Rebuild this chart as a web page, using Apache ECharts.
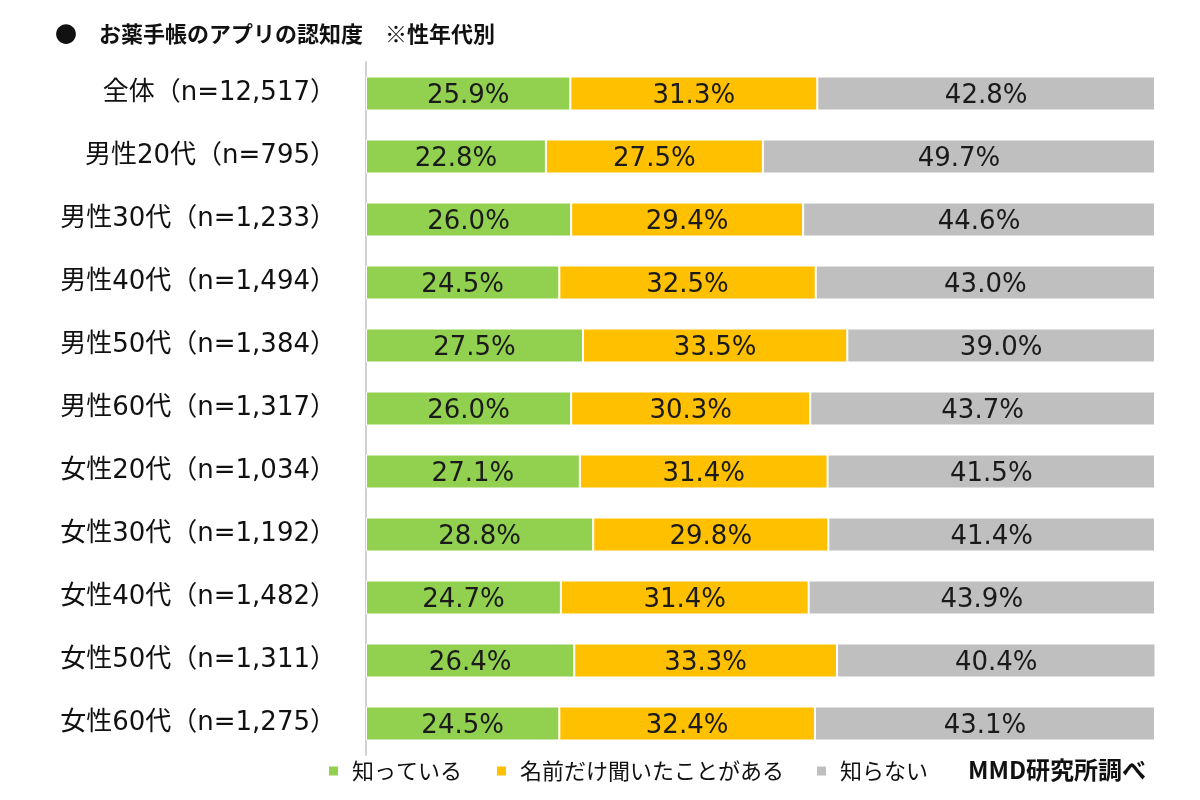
<!DOCTYPE html>
<html><head><meta charset="utf-8">
<script src="https://cdn.jsdelivr.net/npm/echarts@6/dist/echarts.min.js"></script>
<style>html,body{margin:0;padding:0;background:#fff}#c{width:1200px;height:800px}</style>
</head><body><div id="c"></div>
<script>
const categories = ['全体（n=12,517）','男性20代（n=795）','男性30代（n=1,233）','男性40代（n=1,494）','男性50代（n=1,384）','男性60代（n=1,317）','女性20代（n=1,034）','女性30代（n=1,192）','女性40代（n=1,482）','女性50代（n=1,311）','女性60代（n=1,275）'];
const known = [25.9,22.8,26.0,24.5,27.5,26.0,27.1,28.8,24.7,26.4,24.5];
const nameOnly = [31.3,27.5,29.4,32.5,33.5,30.3,31.4,29.8,31.4,33.3,32.4];
const unknown = [42.8,49.7,44.6,43.0,39.0,43.7,41.5,41.4,43.9,40.4,43.1];
const seriesNames = ['知っている','名前だけ聞いたことがある','知らない'];
const colors = ['#92D050','#FFC000','#BFBFBF'];
const FONT = '"DejaVu Sans", "Noto Sans CJK JP", sans-serif';
const JP = '"Noto Sans CJK JP", sans-serif';
const chart = echarts.init(document.getElementById('c'));
const mk = (name, data, i) => ({
  name, type: 'bar', stack: 'all', data, barWidth: 34,
  itemStyle: {color: colors[i], borderColor: '#fff', borderWidth: 1},
  label: {show: true, position: 'inside', offset: [0, 3], formatter: p => p.value.toFixed(1) + '%',
    color: '#1a1a1a', fontSize: 26, fontFamily: FONT},
  emphasis: {disabled: true}
});
const legendLefts = [327, 495, 815];
chart.setOption({
  animation: false,
  title: {text: '●　お薬手帳のアプリの認知度　※性年代別', left: 50, top: 18,
    textStyle: {fontSize: 22, fontWeight: 'bold', color: '#111', fontFamily: JP}},
  grid: {left: 366, right: 45, top: 62, bottom: 45},
  xAxis: {type: 'value', min: 0, max: 100, show: false},
  yAxis: {type: 'category', data: categories, inverse: true,
    axisLine: {show: true, lineStyle: {color: '#d0d0d0', width: 2}},
    axisTick: {show: false},
    axisLabel: {color: '#111', fontSize: 26, margin: 30, padding: [8, 0, 0, 0], fontFamily: FONT}},
  legend: seriesNames.map((n, i) => ({data: [n], left: legendLefts[i], top: 760, icon: 'rect',
    itemWidth: 11, itemHeight: 11, padding: 0,
    textStyle: {fontSize: 22, color: '#111', fontFamily: JP, padding: [0, 0, 0, 8]}})),
  graphic: [{type: 'text', left: 968, top: 758,
    style: {text: 'MMD研究所調べ', fontSize: 24, fontWeight: 'bold', fill: '#111', fontFamily: JP}}],
  series: [mk(seriesNames[0], known, 0), mk(seriesNames[1], nameOnly, 1), mk(seriesNames[2], unknown, 2)]
});
</script></body></html>
